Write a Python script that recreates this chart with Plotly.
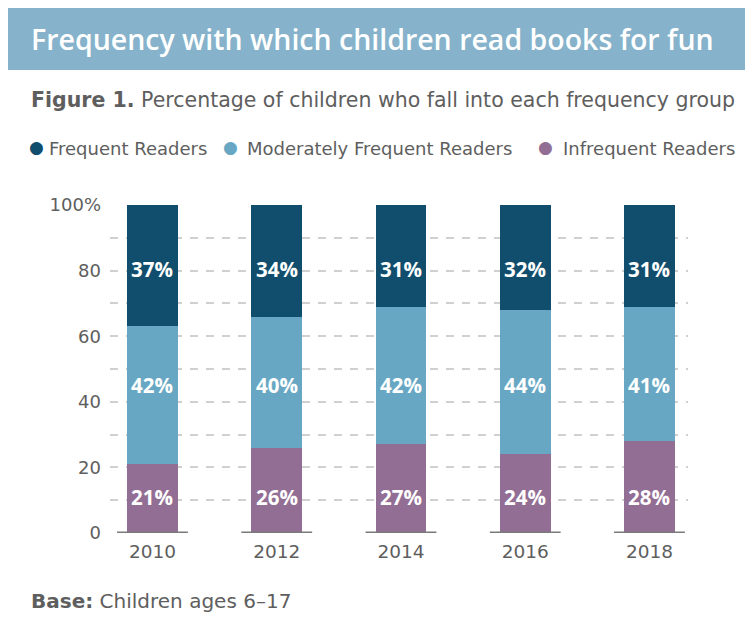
import plotly.graph_objects as go

# data
years = [2010, 2012, 2014, 2016, 2018]
frequent = [37, 34, 31, 32, 31]
moderate = [42, 40, 42, 44, 41]
infrequent = [21, 26, 27, 24, 28]
series_names = ["Frequent Readers", "Moderately Frequent Readers", "Infrequent Readers"]
y_ticks = [0, 10, 20, 30, 40, 50, 60, 70, 80, 90, 100]
y_ticktext = ["0", "", "20", "", "40", "", "60", "", "80", "", "100%"]

COL_FREQ = "#114e6e"
COL_MOD = "#68a7c3"
COL_INF = "#936e94"
HEADER = "#86b3cb"
TEXT = "#5e5e5e"
FONT = "Open Sans"
BODY = "DejaVu Sans"

# page body adds an 8px offset, so the figure is drawn 8px smaller
OFF = 8
W, H = 753 - OFF, 621 - OFF
L, R, T, B = 110 - OFF, 65, 205 - OFF, 88
PW, PH = W - L - R, H - T - B


def px(x):
    # x in window pixels -> paper
    return (x - OFF - L) / PW


def py(y):
    # y in window pixels -> paper
    return (H - B - (y - OFF)) / PH


fig = go.Figure()
# bottom to top
for vals, color, name in [(infrequent, COL_INF, series_names[2]),
                          (moderate, COL_MOD, series_names[1]),
                          (frequent, COL_FREQ, series_names[0])]:
    fig.add_trace(go.Bar(x=years, y=vals, name=name, width=0.82,
                         marker=dict(color=color, line=dict(width=0))))

# value labels sit at a fixed height per series
label_y = {"inf": 11, "mod": 45, "freq": 80.5}
for i, yr in enumerate(years):
    for key, vals in [("inf", infrequent), ("mod", moderate), ("freq", frequent)]:
        fig.add_annotation(x=yr, y=label_y[key], text=f"<b>{vals[i]}%</b>",
                           showarrow=False, xref="x", yref="y",
                           font=dict(family=FONT, size=20.5, color="white"))

# short grey baselines under each bar
for yr in years:
    fig.add_shape(type="line", xref="x", yref="y", x0=yr - 0.57, x1=yr + 0.57,
                  y0=0, y1=0, line=dict(color="#7a7a7a", width=3), layer="above")

# header band and left border
fig.add_shape(type="rect", xref="paper", yref="paper", x0=px(5), x1=px(W + 20),
              y0=py(70), y1=py(5), fillcolor=HEADER, line=dict(width=0), layer="below")
fig.add_shape(type="rect", xref="paper", yref="paper", x0=px(4.5), x1=px(7.5),
              y0=py(H + 20), y1=py(70), fillcolor="#dde8f1", line=dict(width=0), layer="below")

fig.add_annotation(xref="paper", yref="paper", x=px(29), y=py(39), xanchor="left", yanchor="middle",
                   text="Frequency with which children read books for fun", showarrow=False,
                   font=dict(family=FONT, size=28.5, weight=600, color="white"))
fig.add_annotation(xref="paper", yref="paper", x=px(29), y=py(100), xanchor="left", yanchor="middle",
                   text="<b>Figure 1.</b> Percentage of children who fall into each frequency group",
                   showarrow=False, font=dict(family=BODY, size=20.5, color=TEXT))

# legend
dot_x = [36, 230, 545]
text_x = [47, 245, 561]
for dx, tx, name, color in zip(dot_x, text_x, series_names, [COL_FREQ, COL_MOD, COL_INF]):
    fig.add_annotation(xref="paper", yref="paper", x=px(dx), y=py(147), xanchor="center", yanchor="middle",
                       text="●", showarrow=False, font=dict(family=BODY, size=17, color=color))
    fig.add_annotation(xref="paper", yref="paper", x=px(tx), y=py(148), xanchor="left", yanchor="middle",
                       text=name, showarrow=False, font=dict(family=BODY, size=18, color=TEXT))

fig.add_annotation(xref="paper", yref="paper", x=px(29), y=py(601), xanchor="left", yanchor="middle",
                   text="<b>Base:</b> Children ages 6–17", showarrow=False,
                   font=dict(family=BODY, size=20, color=TEXT))

fig.update_layout(
    width=W, height=H,
    margin=dict(l=L, r=R, t=T, b=B),
    paper_bgcolor="white", plot_bgcolor="white",
    barmode="stack", showlegend=False,
    xaxis=dict(range=[2009.316, 2018.62], tickvals=years, ticktext=[str(y) for y in years],
               showgrid=False, zeroline=False, showline=False, ticks="", ticklabelstandoff=5,
               tickfont=dict(family=BODY, size=18.5, color=TEXT)),
    yaxis=dict(range=[0, 100], tickvals=y_ticks, ticktext=y_ticktext,
               showgrid=True, gridcolor="#d0d0d0", gridwidth=1.5, griddash="8px,8px",
               zeroline=False, showline=False, ticks="", ticklabelstandoff=8,
               tickfont=dict(family=BODY, size=18, color=TEXT)),
)

fig.write_html("out.html")
